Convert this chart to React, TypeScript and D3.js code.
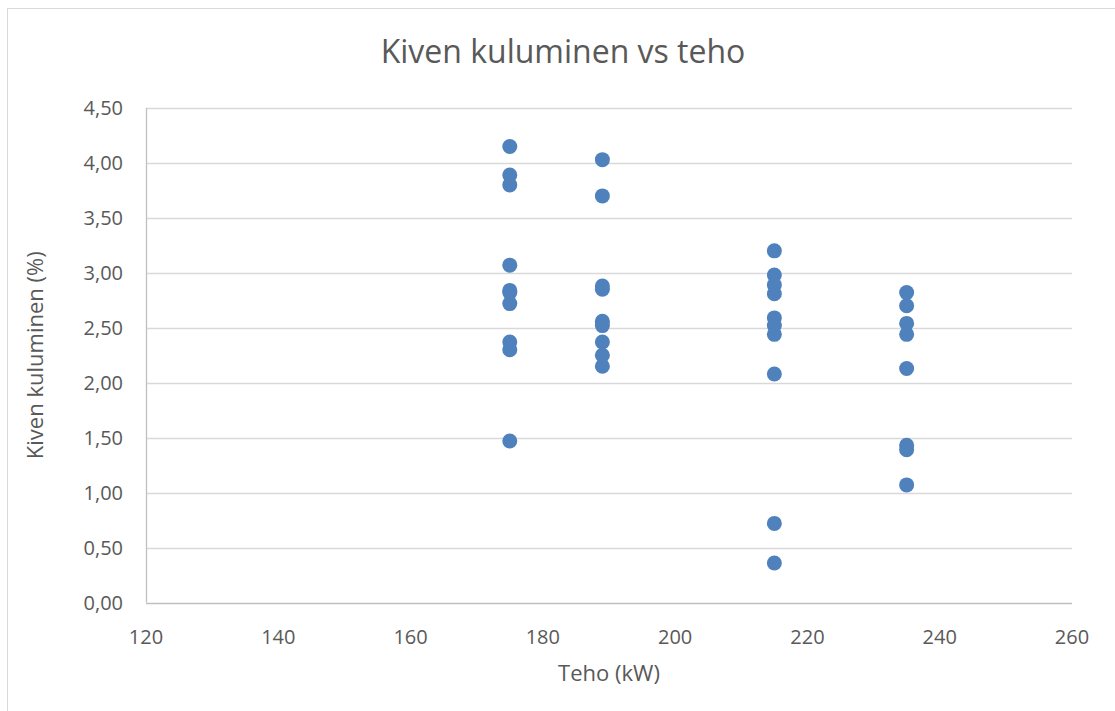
import * as d3 from "d3";
import { useEffect, useRef } from "react";

// Teho (kW) -ryhmät ja kuluminen (%)
const teho175 = [4.15, 3.89, 3.8, 3.07, 2.84, 2.82, 2.72, 2.37, 2.3, 1.47];
const teho189 = [4.03, 3.7, 2.88, 2.85, 2.56, 2.52, 2.37, 2.25, 2.15];
const teho215 = [3.2, 2.98, 2.89, 2.81, 2.59, 2.52, 2.44, 2.08, 0.72, 0.36];
const teho235 = [2.82, 2.7, 2.54, 2.44, 2.13, 1.43, 1.39, 1.07];

const groups: [number, number[]][] = [
  [175, teho175],
  [189, teho189],
  [215, teho215],
  [235, teho235],
];

const xTicks = [120, 140, 160, 180, 200, 220, 240, 260];
const yTicks = [0, 0.5, 1, 1.5, 2, 2.5, 3, 3.5, 4, 4.5];

const App = () => {
  const ref = useRef<SVGSVGElement>(null);

  const width = 1115;
  const height = 711;
  const margin = { top: 108, left: 146, right: 43, bottom: 108 };

  useEffect(() => {
    const svg = d3.select(ref.current);
    svg.selectAll("*").remove();

    const font = "'Open Sans', 'Noto Sans', sans-serif";
    const textColor = "#595959";

    const x = d3.scaleLinear().domain([120, 260]).range([margin.left, width - margin.right]);
    const y = d3.scaleLinear().domain([0, 4.5]).range([height - margin.bottom - 0.5, margin.top]);

    // kaavion reunus
    svg.append("rect")
      .attr("x", 7.5)
      .attr("y", 8.5)
      .attr("width", width + 20)
      .attr("height", height + 20)
      .attr("fill", "white")
      .attr("stroke", "#d9d9d9");

    // vaakaviivat
    svg.append("g")
      .selectAll("line")
      .data(yTicks.filter(d => d > 0))
      .join("line")
      .attr("x1", x(120))
      .attr("x2", x(260))
      .attr("y1", d => Math.round(y(d)) + 0.5)
      .attr("y2", d => Math.round(y(d)) + 0.5)
      .attr("stroke", "#d9d9d9")
      .attr("stroke-width", 1.3);

    // akselit
    svg.append("line")
      .attr("x1", x(120) + 0.5).attr("x2", x(120) + 0.5)
      .attr("y1", y(4.5)).attr("y2", y(0))
      .attr("stroke", "#bfbfbf").attr("stroke-width", 1.3);
    svg.append("line")
      .attr("x1", x(120)).attr("x2", x(260))
      .attr("y1", Math.round(y(0)) + 0.5).attr("y2", Math.round(y(0)) + 0.5)
      .attr("stroke", "#bfbfbf").attr("stroke-width", 1.3);

    const fmt = (v: number) => v.toFixed(2).replace(".", ",");

    svg.append("g")
      .selectAll("text")
      .data(yTicks)
      .join("text")
      .attr("x", 123)
      .attr("y", d => y(d))
      .attr("dy", "0.35em")
      .attr("text-anchor", "end")
      .attr("font-family", font)
      .attr("font-size", 20)
      .attr("fill", textColor)
      .text(fmt);

    svg.append("g")
      .selectAll("text")
      .data(xTicks)
      .join("text")
      .attr("x", d => x(d))
      .attr("y", 637)
      .attr("dy", "0.35em")
      .attr("text-anchor", "middle")
      .attr("font-family", font)
      .attr("font-size", 20)
      .attr("fill", textColor)
      .text(d => d);

    // otsikot
    svg.append("text")
      .attr("x", 563)
      .attr("y", 52)
      .attr("dy", "0.35em")
      .attr("text-anchor", "middle")
      .attr("font-family", font)
      .attr("font-size", 32)
      .attr("fill", textColor)
      .text("Kiven kuluminen vs teho");

    svg.append("text")
      .attr("x", (x(120) + x(260)) / 2)
      .attr("y", 673)
      .attr("dy", "0.35em")
      .attr("text-anchor", "middle")
      .attr("font-family", font)
      .attr("font-size", 22)
      .attr("fill", textColor)
      .text("Teho (kW)");

    svg.append("text")
      .attr("transform", `translate(35, ${(y(0) + y(4.5)) / 2}) rotate(-90)`)
      .attr("dy", "0.35em")
      .attr("text-anchor", "middle")
      .attr("font-family", font)
      .attr("font-size", 22)
      .attr("fill", textColor)
      .text("Kiven kuluminen (%)");

    // pisteet
    const points = groups.flatMap(([t, vals]) => vals.map(v => ({ t, v })));
    svg.append("g")
      .selectAll("circle")
      .data(points)
      .join("circle")
      .attr("cx", d => x(d.t))
      .attr("cy", d => y(d.v))
      .attr("r", 7.5)
      .attr("fill", "#4f81bd");
  }, []);

  return (
    <svg
      ref={ref}
      width={width}
      height={height}
      style={{ position: "fixed", left: 0, top: 0, display: "block" }}
    ></svg>
  );
};

export default App;
